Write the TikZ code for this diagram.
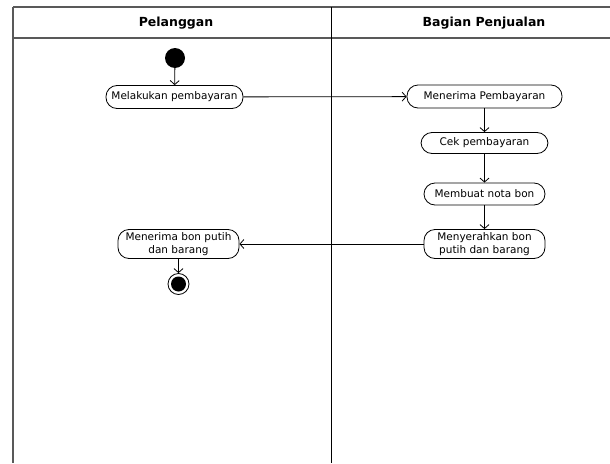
\documentclass[tikz,border=0pt]{standalone}
\usepackage{fontspec}
\setmainfont{DejaVu Sans}
\usetikzlibrary{arrows.meta}

\begin{document}
\begin{tikzpicture}[x=1pt,y=-1pt,
  lane/.style={font=\bfseries\fontsize{12.5}{14}\selectfont},
  act/.style={draw,line width=0.8pt,rounded corners=11pt,align=center,inner xsep=2pt,inner ysep=1pt,font=\fontsize{10.5}{13}\selectfont},
  startnode/.style={circle,fill=black,inner sep=0pt,minimum size=20pt},
  stopnode/.style={circle,draw,line width=0.8pt,inner sep=0pt,minimum size=21pt},
  flow/.style={line width=0.8pt,-{Straight Barb[length=4pt,width=9pt]}}]
\useasboundingbox (0,0) rectangle (610,463);
% swimlanes
\draw[gray!70!black,line width=1.5pt] (13,7) -- (610,7);
\draw[gray!70!black,line width=1.5pt] (13,38) -- (610,38);
\draw[gray!70!black,line width=2pt] (13,7) -- (13,463);
\draw[line width=1pt] (331,7) -- (331,463);
\node[lane] (pel) at (176,23) {Pelanggan};
\node[lane] (bag) at (484,23) {Bagian Penjualan};
% activities
\node[startnode] (start) at (175,58) {};
\node[act,minimum width=137pt,minimum height=23pt] (bayar) at (174.5,97) {Melakukan pembayaran};
\node[act,minimum width=155pt,minimum height=23pt] (terima) at (484.5,96.5) {Menerima Pembayaran};
\node[act,minimum width=127pt,minimum height=21pt] (cek) at (484.5,143) {Cek pembayaran};
\node[act,minimum width=121pt,minimum height=22pt] (nota) at (484.5,194) {Membuat nota bon};
\node[act,minimum width=121pt,minimum height=29pt] (serah) at (484.5,244) {Menyerahkan bon\\putih dan barang};
\node[act,minimum width=121pt,minimum height=29pt] (bon) at (178.5,244) {Menerima bon putih\\dan barang};
\node[stopnode] (stop) at (178.5,284) {};
\fill (stop) circle (7.5pt);
% flows
\draw[flow] (start) -- (bayar);
\draw[flow] (bayar) -- (terima);
\draw[flow] (terima) -- (cek);
\draw[flow] (cek) -- (nota);
\draw[flow] (nota) -- (serah);
\draw[flow] (serah) -- (bon);
\draw[flow] (bon) -- (stop);
\end{tikzpicture}
\end{document}
